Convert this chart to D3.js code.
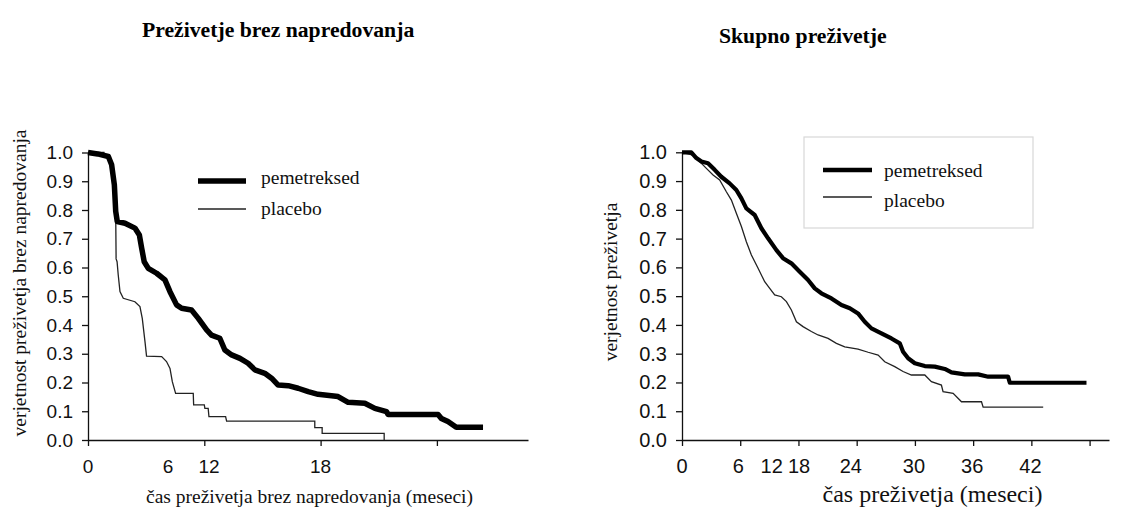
<!DOCTYPE html>
<html>
<head>
<meta charset="utf-8">
<script src="https://cdn.jsdelivr.net/npm/d3@7"></script>
<style>
  body { margin: 0; background: #fff; }
  svg { display: block; }
</style>
</head>
<body>
<svg id="chart" width="1121" height="508"></svg>
<script>
// [month, survival probability]
const pfsPemetrexed = [
  [0, 1.0], [0.5, 0.995], [1.05, 0.986], [1.22, 0.957], [1.36, 0.887], [1.43, 0.795], [1.51, 0.76],
  [1.91, 0.754], [2.42, 0.737], [2.65, 0.713], [2.77, 0.667], [2.9, 0.62], [3.11, 0.597], [3.54, 0.58],
  [3.97, 0.557], [4.23, 0.516], [4.57, 0.47], [4.83, 0.458], [5.34, 0.452], [5.69, 0.423], [6.12, 0.383],
  [6.37, 0.365], [6.8, 0.354], [7.06, 0.313], [7.41, 0.296], [7.84, 0.284], [8.26, 0.267], [8.61, 0.244],
  [9.12, 0.232], [9.47, 0.215], [9.81, 0.191], [10.33, 0.189], [10.84, 0.18], [11.36, 0.168], [11.87, 0.159],
  [12.56, 0.154], [12.9, 0.151], [13.42, 0.131], [14.28, 0.128], [14.8, 0.11], [15.4, 0.099], [15.48, 0.089],
  [18.06, 0.089], [18.23, 0.075], [18.57, 0.064], [19.0, 0.044], [20.38, 0.044]
];
const pfsPlacebo = [
  [0, 1.0], [0.82, 1.0], [0.82, 0.985], [1.05, 0.98], [1.22, 0.95], [1.36, 0.88], [1.43, 0.78],
  [1.45, 0.63], [1.5, 0.62], [1.56, 0.574], [1.65, 0.516], [1.82, 0.493], [2.42, 0.481], [2.68, 0.464],
  [2.8, 0.423], [2.94, 0.342], [3.02, 0.292], [3.8, 0.29], [4.05, 0.273], [4.23, 0.249], [4.35, 0.203],
  [4.52, 0.162], [5.43, 0.162], [5.45, 0.122], [6.0, 0.122], [6.03, 0.11], [6.2, 0.11], [6.24, 0.081],
  [7.1, 0.081], [7.15, 0.066], [11.7, 0.066], [11.7, 0.043], [12.08, 0.043], [12.08, 0.023],
  [15.28, 0.023], [15.28, 0]
];
const osPemetrexed = [
  [0, 1.0], [0.96, 1.0], [1.48, 0.98], [2.0, 0.968], [2.68, 0.962], [3.37, 0.939], [4.05, 0.915],
  [4.91, 0.892], [5.6, 0.869], [6.12, 0.84], [6.63, 0.805], [7.49, 0.782], [8.18, 0.736], [8.87, 0.701],
  [9.73, 0.66], [10.41, 0.632], [11.27, 0.614], [12.13, 0.585], [12.99, 0.556], [13.68, 0.527],
  [14.36, 0.51], [15.4, 0.492], [16.43, 0.469], [17.29, 0.458], [18.14, 0.44], [18.83, 0.411],
  [19.52, 0.388], [20.55, 0.371], [21.58, 0.353], [22.44, 0.336], [22.78, 0.307], [23.3, 0.284],
  [23.99, 0.267], [25.02, 0.257], [26.05, 0.255], [27.08, 0.247], [27.77, 0.235], [29.14, 0.228],
  [30.52, 0.228], [31.55, 0.22], [33.6, 0.22], [33.78, 0.199], [41.68, 0.199]
];
const osPlacebo = [
  [0, 1.0], [1.13, 0.99], [1.82, 0.968], [2.51, 0.944], [3.2, 0.921], [3.88, 0.904], [4.57, 0.863],
  [5.09, 0.834], [5.6, 0.788], [6.12, 0.742], [6.63, 0.689], [7.15, 0.643], [7.84, 0.597], [8.52, 0.55],
  [9.04, 0.527], [9.55, 0.504], [10.24, 0.498], [10.76, 0.481], [11.27, 0.452], [11.79, 0.411],
  [12.47, 0.394], [13.33, 0.377], [14.02, 0.365], [15.05, 0.353], [15.91, 0.336], [16.77, 0.324],
  [18.14, 0.316], [19.18, 0.305], [20.21, 0.295], [20.89, 0.272], [21.92, 0.255], [22.78, 0.238],
  [23.64, 0.226], [25.02, 0.226], [25.7, 0.203], [26.73, 0.191], [26.9, 0.168], [27.94, 0.162],
  [28.8, 0.133], [30.86, 0.133], [31.03, 0.114], [37.22, 0.114]
];

const yTickValues = [0, 0.1, 0.2, 0.3, 0.4, 0.5, 0.6, 0.7, 0.8, 0.9, 1.0];
const pfsTicks = [0, 6, 12, 18];
const osTicks = [0, 6, 12, 18, 24, 30, 36, 42];
// the printed tick labels do not sit on the tick marks in the source figure
const pfsTickLabels = ['0', '6', '12', '18'];
const pfsTickLabelAt = [0, 4.13, 6.24, 12.0];
const osTickLabels = ['0', '6', '12', '18', '24', '30', '36', '42'];
const osTickLabelAt = [0, 5.8, 9.24, 12.06, 17.4, 23.9, 29.9, 35.9];
const seriesNames = ['pemetreksed', 'placebo'];

const serif = '"Liberation Serif", "Times New Roman", serif';
const sans = '"Liberation Sans", Arial, sans-serif';

const svg = d3.select('#chart');

function drawPanel(p) {
  const x = d3.scaleLinear().domain([0, p.xMax]).range([p.x0, p.x1]);
  const y = d3.scaleLinear().domain([0, 1]).range([p.yBot, p.yTop]);
  const g = svg.append('g');

  // title
  g.append('text')
    .attr('x', p.titleX).attr('y', p.titleY)
    .style('font-family', serif).style('font-weight', 'bold').style('font-size', '21.7px')
    .text(p.title);

  // y axis
  const ya = g.append('g')
    .attr('transform', `translate(${p.x0},0)`)
    .call(d3.axisLeft(y).tickValues(yTickValues).tickFormat(d3.format('.1f'))
      .tickSize(6).tickPadding(9).tickSizeOuter(0));
  ya.selectAll('text').style('font-family', sans).style('font-size', p.tickFont + 'px').attr('fill', '#111');

  // x axis
  g.append('g')
    .attr('transform', `translate(0,${p.yBot})`)
    .call(d3.axisBottom(x).tickValues(p.ticks).tickFormat('').tickSize(6).tickSizeOuter(0));
  g.selectAll('.domain, .tick line').attr('stroke', '#111').attr('stroke-width', 1.3);

  g.append('g').selectAll('text')
    .data(p.labels)
    .join('text')
    .attr('x', (d, i) => x(p.labelAt[i]))
    .attr('y', p.yBot + 33)
    .attr('text-anchor', 'middle')
    .style('font-family', sans).style('font-size', p.tickFont + 'px').attr('fill', '#111')
    .text(d => d);

  // axis titles
  g.append('text')
    .attr('transform', `translate(${p.yTitleX},${p.yTitleY}) rotate(-90)`)
    .attr('text-anchor', 'middle')
    .style('font-family', serif).style('font-size', p.yTitleSize + 'px').attr('fill', '#111')
    .text(p.yTitle);
  g.append('text')
    .attr('x', p.xTitleX).attr('y', p.xTitleY)
    .attr('text-anchor', 'middle')
    .style('font-family', serif).style('font-size', p.xTitleSize + 'px').attr('fill', '#111')
    .text(p.xTitle);

  // curves
  const line = d3.line().x(d => x(d[0])).y(d => y(d[1]));
  g.append('path').datum(p.placebo)
    .attr('fill', 'none').attr('stroke', '#222').attr('stroke-width', 1.3)
    .attr('d', line);
  g.append('path').datum(p.pemetrexed)
    .attr('fill', 'none').attr('stroke', '#000').attr('stroke-width', p.thick)
    .attr('stroke-linejoin', 'round')
    .attr('d', line);

  // legend
  const lg = p.legend;
  if (lg.box) {
    g.append('rect')
      .attr('x', lg.box[0]).attr('y', lg.box[1]).attr('width', lg.box[2]).attr('height', lg.box[3])
      .attr('fill', '#fff').attr('stroke', '#d8d8d8').attr('stroke-width', 1.2);
  }
  seriesNames.forEach((name, i) => {
    const ly = lg.lineY[i];
    g.append('line')
      .attr('x1', lg.lineX[0]).attr('x2', lg.lineX[1]).attr('y1', ly).attr('y2', ly)
      .attr('stroke', i === 0 ? '#000' : '#222')
      .attr('stroke-width', i === 0 ? lg.thick : 1.3);
    g.append('text')
      .attr('x', lg.textX).attr('y', lg.textY[i])
      .style('font-family', serif).style('font-size', '19.5px').attr('fill', '#111')
      .text(name);
  });
}

drawPanel({
  x0: 88, x1: 528, xMax: 22.7, yTop: 152.5, yBot: 440,
  ticks: pfsTicks, labels: pfsTickLabels, labelAt: pfsTickLabelAt, tickFont: 19,
  title: 'Preživetje brez napredovanja', titleX: 142, titleY: 37,
  yTitle: 'verjetnost preživetja brez napredovanja', yTitleX: 26, yTitleY: 283, yTitleSize: 19.5,
  xTitle: 'čas preživetja brez napredovanja (meseci)', xTitleX: 309.5, xTitleY: 503, xTitleSize: 19.5,
  pemetrexed: pfsPemetrexed, placebo: pfsPlacebo, thick: 5.5,
  legend: { lineX: [198, 246], lineY: [181, 209], textX: 261, textY: [184, 215], thick: 5.5 }
});

drawPanel({
  x0: 682, x1: 1109, xMax: 44, yTop: 152.3, yBot: 440,
  ticks: osTicks, labels: osTickLabels, labelAt: osTickLabelAt, tickFont: 20,
  title: 'Skupno preživetje', titleX: 719, titleY: 43,
  yTitle: 'verjetnost preživetja', yTitleX: 617, yTitleY: 282, yTitleSize: 19.5,
  xTitle: 'čas preživetja (meseci)', xTitleX: 932.5, xTitleY: 502, xTitleSize: 24,
  pemetrexed: osPemetrexed, placebo: osPlacebo, thick: 4.2,
  legend: { box: [804, 137, 229, 91], lineX: [823, 872], lineY: [170, 197], textX: 884, textY: [177, 207], thick: 4.5 }
});
</script>
</body>
</html>
